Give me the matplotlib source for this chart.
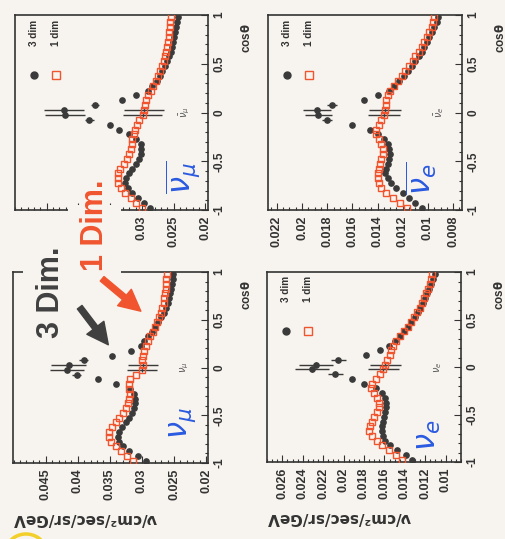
import matplotlib.pyplot as plt
from matplotlib.patches import Rectangle, FancyArrowPatch, Arc
from matplotlib.ticker import FixedLocator, MultipleLocator, FuncFormatter

# cos(theta) bin centres (40 bins of 0.05)
cos_bins = [-0.975, -0.925, -0.875, -0.825, -0.775, -0.725, -0.675, -0.625, -0.575, -0.525,
            -0.475, -0.425, -0.375, -0.325, -0.275, -0.225, -0.175, -0.125, -0.075, -0.025,
            0.025, 0.075, 0.125, 0.175, 0.225, 0.275, 0.325, 0.375, 0.425, 0.475,
            0.525, 0.575, 0.625, 0.675, 0.725, 0.775, 0.825, 0.875, 0.925, 0.975]

# nu_mu
numu_3d = [0.0293, 0.0306, 0.0320, 0.0330, 0.0336, 0.0338, 0.0336, 0.0331, 0.0325, 0.0320,
           0.0316, 0.0313, 0.0311, 0.0311, 0.0313, 0.0318, 0.0341, 0.0368, 0.0402, 0.0417,
           0.0414, 0.0391, 0.0347, 0.0317, 0.0302, 0.0296, 0.0290, 0.0285, 0.0280, 0.0275,
           0.0270, 0.0266, 0.0263, 0.0260, 0.0258, 0.0256, 0.0255, 0.0253, 0.0252, 0.0251]
numu_1d = [0.0314, 0.0323, 0.0332, 0.0341, 0.0348, 0.0351, 0.0351, 0.0347, 0.0341, 0.0335,
           0.0329, 0.0325, 0.0322, 0.0320, 0.0319, 0.0320, 0.0320, 0.0318, 0.0310, 0.0300,
           0.0298, 0.0300, 0.0298, 0.0296, 0.0293, 0.0290, 0.0287, 0.0283, 0.0279, 0.0276,
           0.0273, 0.0270, 0.0268, 0.0266, 0.0265, 0.0264, 0.0263, 0.0262, 0.0262, 0.0261]
numu_3d_err = [0.0007, 0.0027, 0.0027, 0.0007]
numu_1d_err = [0.0, 0.0023, 0.0023, 0.0]

# anti nu_mu
numubar_3d = [0.0288, 0.0297, 0.0307, 0.0315, 0.0322, 0.0326, 0.0325, 0.0321, 0.0316, 0.0309,
              0.0304, 0.0302, 0.0301, 0.0302, 0.0309, 0.0320, 0.0336, 0.0351, 0.0383, 0.0421,
              0.0423, 0.0374, 0.0331, 0.0310, 0.0290, 0.0284, 0.0277, 0.0272, 0.0268, 0.0264,
              0.0261, 0.0258, 0.0255, 0.0253, 0.0251, 0.0249, 0.0248, 0.0246, 0.0245, 0.0244]
numubar_1d = [0.0300, 0.0309, 0.0318, 0.0326, 0.0333, 0.0337, 0.0338, 0.0337, 0.0334, 0.0329,
              0.0324, 0.0320, 0.0318, 0.0316, 0.0315, 0.0313, 0.0311, 0.0308, 0.0304, 0.0299,
              0.0297, 0.0295, 0.0293, 0.0290, 0.0286, 0.0282, 0.0278, 0.0274, 0.0271, 0.0268,
              0.0266, 0.0264, 0.0262, 0.0260, 0.0259, 0.0258, 0.0257, 0.0256, 0.0256, 0.0255]
numubar_3d_err = [0.0007, 0.0031, 0.0031, 0.0007]
numubar_1d_err = [0.0, 0.0031, 0.0031, 0.0]

# nu_e
nue_3d = [0.0133, 0.0139, 0.0148, 0.0155, 0.0159, 0.0161, 0.0162, 0.0162, 0.0161, 0.0160,
          0.0159, 0.0158, 0.0158, 0.0159, 0.0162, 0.0168, 0.0180, 0.0192, 0.0208, 0.0231,
          0.0227, 0.0205, 0.0178, 0.0164, 0.0156, 0.0150, 0.0145, 0.0141, 0.0137, 0.0134,
          0.0130, 0.0127, 0.0125, 0.0122, 0.0120, 0.0118, 0.0116, 0.0114, 0.0112, 0.0110]
nue_1d = [0.0143, 0.0149, 0.0156, 0.0162, 0.0167, 0.0172, 0.0175, 0.0174, 0.0172, 0.0170,
          0.0167, 0.0165, 0.0165, 0.0167, 0.0170, 0.0173, 0.0172, 0.0168, 0.0164, 0.0161,
          0.0159, 0.0157, 0.0155, 0.0154, 0.0152, 0.0149, 0.0145, 0.0141, 0.0137, 0.0134,
          0.0131, 0.0128, 0.0125, 0.0123, 0.0121, 0.0119, 0.0117, 0.0115, 0.0114, 0.0113]
nue_3d_err = [0.0007, 0.0017, 0.0017, 0.0007]
nue_1d_err = [0.0, 0.0015, 0.0015, 0.0]

# anti nu_e
nuebar_3d = [0.0105, 0.0110, 0.0115, 0.0120, 0.0125, 0.0129, 0.0132, 0.0134, 0.0133, 0.0132,
             0.0131, 0.0130, 0.0131, 0.0132, 0.0135, 0.0140, 0.0146, 0.0160, 0.0180, 0.0187,
             0.0188, 0.0176, 0.0151, 0.0140, 0.0131, 0.0127, 0.0123, 0.0119, 0.0116, 0.0113,
             0.0110, 0.0107, 0.0105, 0.0103, 0.0101, 0.0099, 0.0097, 0.0095, 0.0093, 0.0092]
nuebar_1d = [0.0117, 0.0122, 0.0128, 0.0133, 0.0137, 0.0139, 0.0140, 0.0140, 0.0139, 0.0138,
             0.0137, 0.0136, 0.0136, 0.0137, 0.0139, 0.0141, 0.0141, 0.0139, 0.0137, 0.0135,
             0.0134, 0.0133, 0.0133, 0.0132, 0.0130, 0.0127, 0.0124, 0.0121, 0.0118, 0.0115,
             0.0112, 0.0110, 0.0107, 0.0105, 0.0103, 0.0101, 0.0099, 0.0097, 0.0096, 0.0095]
nuebar_3d_err = [0.0004, 0.0011, 0.0011, 0.0004]
nuebar_1d_err = [0.0, 0.00125, 0.00125, 0.0]

err_bins = [18, 19, 20, 21]
cos_ticks = [-1, -0.5, 0, 0.5, 1]
numu_ticks = [0.02, 0.025, 0.03, 0.035, 0.04, 0.045]
nue_ticks = [0.01, 0.012, 0.014, 0.016, 0.018, 0.02, 0.022, 0.024, 0.026]
nuebar_ticks = [0.008, 0.01, 0.012, 0.014, 0.016, 0.018, 0.02, 0.022]

BG = '#f7f3ee'
DARK = '#3a3a3a'
RED = '#f0552f'
BLUE = '#2a5ae0'
W, H = 506, 539

plt.rcParams['font.family'] = ['Liberation Sans', 'DejaVu Sans']


def fx(x):
    return x / W


def fy(y):
    return 1 - y / H


def draw_panel(ax, f3, f1, e3, e1, xlim, ticks, minor, flavour, hand, hand_xy,
               legend=True, ylabel=False, max_label=None):
    ax.set_facecolor('none')
    ax.plot(f3, cos_bins, 'o', color=DARK, ms=3.8, zorder=3)
    ax.plot(f1, cos_bins, 's', mfc='none', mec=RED, mew=1.0, ms=4.8, zorder=4)
    sel_c = [cos_bins[i] for i in err_bins]
    ax.errorbar([f3[i] for i in err_bins], sel_c, xerr=e3, yerr=[0, 0.025, 0.025, 0],
                fmt='none', ecolor=DARK, elinewidth=1.0, capsize=0, zorder=3)
    ax.errorbar([f1[i] for i in err_bins], sel_c, xerr=e1, yerr=[0, 0.025, 0.025, 0],
                fmt='none', ecolor=DARK, elinewidth=1.0, capsize=0, zorder=3)

    ax.set_xlim(*xlim)
    ax.set_ylim(-1, 1)
    ax.xaxis.set_major_locator(FixedLocator(ticks))
    ax.xaxis.set_minor_locator(MultipleLocator(minor))
    ax.yaxis.set_major_locator(FixedLocator(cos_ticks))
    ax.yaxis.set_minor_locator(MultipleLocator(0.1))

    def xfmt(v, p):
        if max_label is not None and v > max_label:
            return ''
        return f'{v:g}'
    ax.xaxis.set_major_formatter(FuncFormatter(xfmt))
    ax.yaxis.set_major_formatter(FuncFormatter(lambda v, p: f'{v:g}'))
    ax.yaxis.tick_right()
    ax.tick_params(which='both', direction='in', top=False, left=False,
                   bottom=True, right=True, color='#333333', width=0.8)
    ax.tick_params(which='major', length=5)
    ax.tick_params(which='minor', length=2.5)
    ax.tick_params(axis='x', labelrotation=90, labelsize=9, pad=4)
    ax.tick_params(axis='y', labelrotation=90, labelsize=8.5, pad=4)
    for lab in ax.get_xticklabels() + ax.get_yticklabels():
        lab.set_fontweight('bold')
        lab.set_color('#333333')
    for lab in ax.get_yticklabels():
        lab.set_va('center')
    for sp in ax.spines.values():
        sp.set_linewidth(1.2)
        sp.set_color('#333333')

    ax.text(1.2, 0.88, r'cos$\mathbf{\theta}$', transform=ax.transAxes, rotation=90,
            ha='center', va='center', fontsize=8.5, fontweight='bold', color='#333333')
    ax.text(0.88, 0.50, flavour, transform=ax.transAxes, rotation=90,
            ha='center', va='center', fontsize=7, color='#555555')
    ax.text(hand_xy[0], hand_xy[1], hand, transform=ax.transAxes, rotation=90,
            ha='center', va='center', fontsize=22, color=BLUE)

    if legend:
        ax.plot([0.10], [0.69], 'o', color=DARK, ms=5, transform=ax.transAxes)
        ax.plot([0.21], [0.69], 's', mfc='none', mec=RED, mew=1.0, ms=6,
                transform=ax.transAxes)
        ax.text(0.10, 0.91, '3 dim', transform=ax.transAxes, rotation=90,
                ha='center', va='center', fontsize=7.2, fontweight='bold', color='#333333')
        ax.text(0.21, 0.91, '1 dim', transform=ax.transAxes, rotation=90,
                ha='center', va='center', fontsize=7.2, fontweight='bold', color='#333333')
    if ylabel:
        ax.text(0.0, -0.29, 'ν/cm²/sec/sr/GeV', transform=ax.transAxes, rotation=180,
                ha='left', va='center', fontsize=11, fontweight='bold',
                family='DejaVu Sans', color='#333333')


fig = plt.figure(figsize=(W / 100, H / 100), dpi=100, facecolor=BG)

ax_tl = fig.add_axes([fx(15), fy(210), 193 / W, 195 / H])
ax_tr = fig.add_axes([fx(268), fy(210), 194 / W, 195 / H])
ax_bl = fig.add_axes([fx(13), fy(463), 195 / W, 191 / H])
ax_br = fig.add_axes([fx(267), fy(462), 194 / W, 190 / H])

draw_panel(ax_tl, numubar_3d, numubar_1d, numubar_3d_err, numubar_1d_err, (0.0500, 0.0196),
           numu_ticks, 0.001, r'$\bar{\nu}_{\mu}$', r'$\overline{\nu_\mu}$', (0.87, 0.17),
           max_label=0.031)
draw_panel(ax_tr, nuebar_3d, nuebar_1d, nuebar_3d_err, nuebar_1d_err, (0.0227, 0.0073),
           nuebar_ticks, 0.0005, r'$\bar{\nu}_{e}$', r'$\overline{\nu_e}$', (0.79, 0.16))
draw_panel(ax_bl, numu_3d, numu_1d, numu_3d_err, numu_1d_err, (0.0501, 0.0197),
           numu_ticks, 0.001, r'$\nu_{\mu}$', r'$\nu_\mu$', (0.87, 0.21),
           legend=False, ylabel=True)
draw_panel(ax_br, nue_3d, nue_1d, nue_3d_err, nue_1d_err, (0.0275, 0.0085),
           nue_ticks, 0.0005, r'$\nu_{e}$', r'$\nu_e$', (0.83, 0.14), ylabel=True)

# pasted-on label area covering part of the axes
for (x0, y0, x1, y1) in [(68, 205, 121, 216), (23, 214, 121, 276), (23, 270, 70, 345)]:
    fig.add_artist(Rectangle((fx(x0), fy(y1)), (x1 - x0) / W, (y1 - y0) / H,
                             transform=fig.transFigure, facecolor=BG, edgecolor='none',
                             zorder=5))

fig.text(fx(51), fy(292), '3 Dim.', rotation=90, ha='center', va='center',
         fontsize=22, fontweight='bold', color='#404040', zorder=6)
fig.text(fx(95), fy(225), '1 Dim.', rotation=90, ha='center', va='center',
         fontsize=22, fontweight='bold', color=RED, zorder=6)
fig.add_artist(FancyArrowPatch((fx(78), fy(305)), (fx(110), fy(347)),
                               transform=fig.transFigure, color='#404040', zorder=6,
                               arrowstyle='simple,head_length=1.1,head_width=1.1,tail_width=0.3',
                               mutation_scale=14))
fig.add_artist(FancyArrowPatch((fx(100), fy(277)), (fx(143), fy(313)),
                               transform=fig.transFigure, color=RED, zorder=6,
                               arrowstyle='simple,head_length=1.1,head_width=1.1,tail_width=0.3',
                               mutation_scale=14))
fig.add_artist(Arc((fx(26), fy(552)), 40 / W, 36 / H, theta1=15, theta2=165,
                   transform=fig.transFigure, color='#f2cf2a', lw=2.5, zorder=6))

fig.savefig('out.png', dpi=100, facecolor=BG)
